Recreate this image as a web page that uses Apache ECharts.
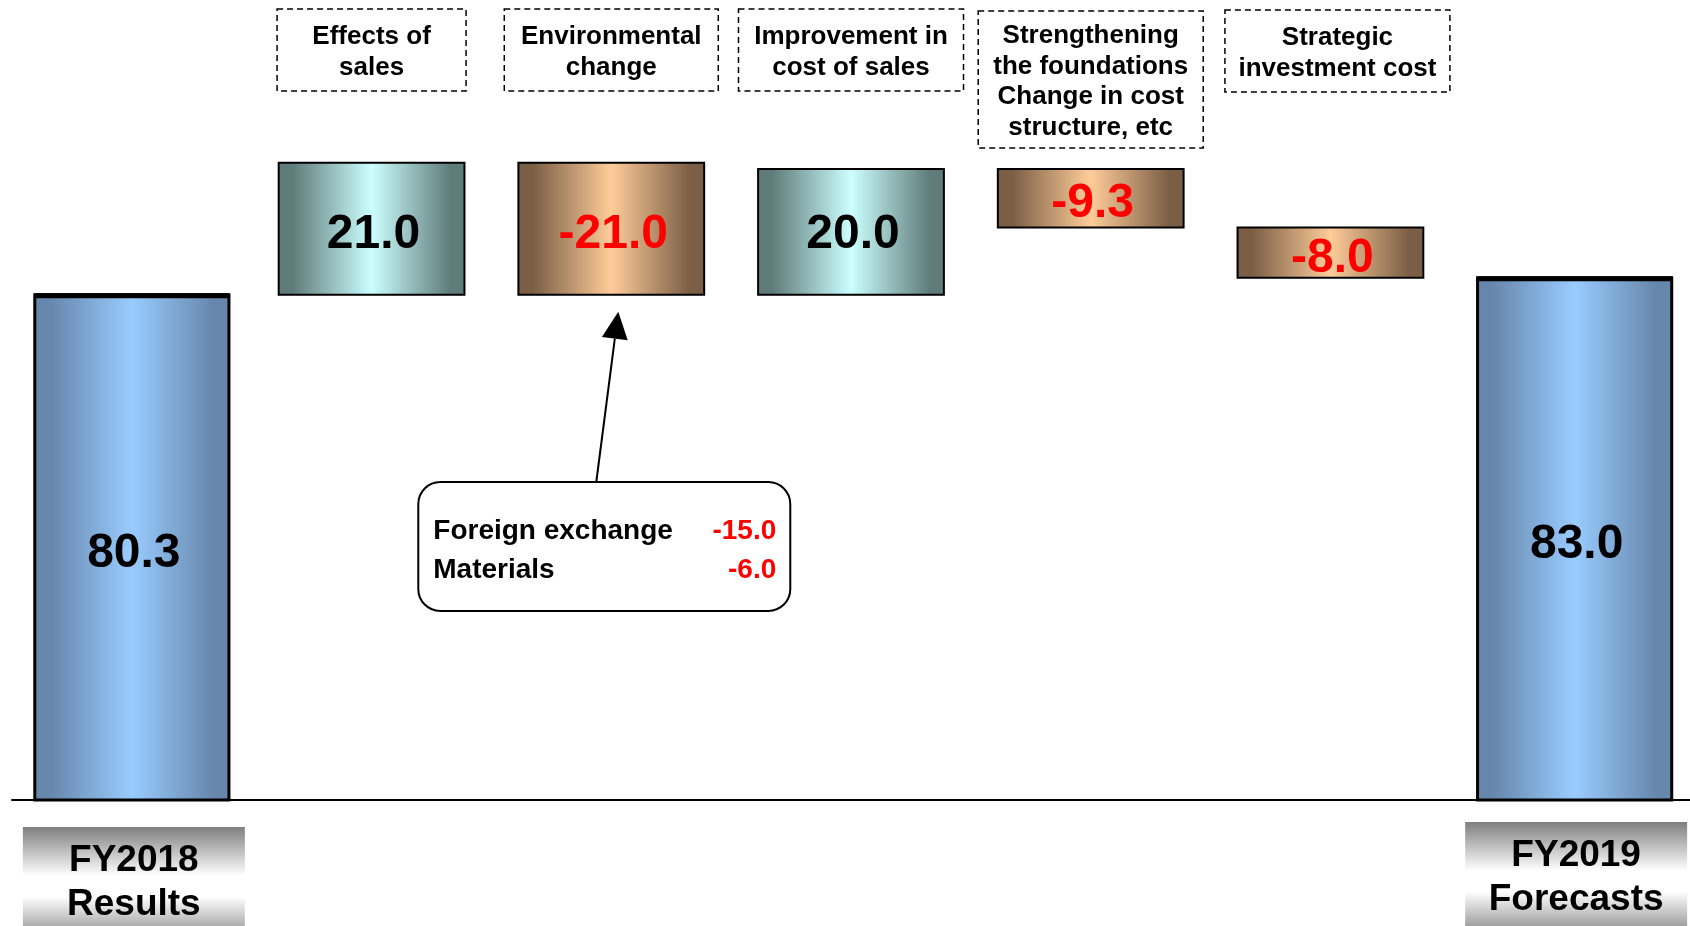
<!DOCTYPE html>
<html>
<head>
<meta charset="utf-8">
<title>Operating income bridge FY2018 to FY2019</title>
<script src="https://cdn.jsdelivr.net/npm/echarts/dist/echarts.min.js"></script>
<style>
  html, body { margin: 0; padding: 0; background: #ffffff; }
  #chart { width: 1690px; height: 926px; }
</style>
</head>
<body>
<div id="chart"></div>
<script>
// ---- data ----
const categories = [
  'FY2018\nResults',
  'Effects of\nsales',
  'Environmental\nchange',
  'Improvement in\ncost of sales',
  'Strengthening\nthe foundations\nChange in cost\nstructure, etc',
  'Strategic\ninvestment cost',
  'FY2019\nForecasts'
];
const startValue = 80.3;
const changes = [21.0, -21.0, 20.0, -9.3, -8.0];
const endValue = 83.0;
const breakdownNames = ['Foreign exchange', 'Materials'];
const breakdownValues = [-15.0, -6.0];
const breakdownTarget = 2; // Environmental change

// ---- styling ----
const FONT = '"Liberation Sans", Arial, sans-serif';
const barShift = [0, 0, 0, 0, 0, 0, 4.5];
const labelShift = [0, 0, 0, -3, 0, 0, 0];
const headerWidths = [189, 214, 225, 225, 225];
const headerTops = [9, 9, 9, 11, 10];
const headerShift = [0, 0, 0, 0, 7];
const grad = (edge, mid) => ({
  type: 'linear', x: 0, y: 0, x2: 1, y2: 0,
  colorStops: [
    { offset: 0, color: edge },
    { offset: 0.08, color: edge },
    { offset: 0.5, color: mid },
    { offset: 0.92, color: edge },
    { offset: 1, color: edge }
  ]
});
const fills = {
  total: grad('#6686ab', '#99ccff'),
  up: grad('#5f7c7a', '#ccffff'),
  down: grad('#7a5e45', '#ffcc99')
};

// waterfall segments: [categoryIndex, low, high, labelValue]
const bars = [];
const kinds = [];
bars.push([0, 0, startValue, startValue]); kinds.push('total');
let running = startValue;
changes.forEach((d, k) => {
  const next = running + d;
  bars.push([k + 1, Math.min(running, next), Math.max(running, next), d]);
  kinds.push(d >= 0 ? 'up' : 'down');
  running = next;
});
bars.push([categories.length - 1, 0, endValue, endValue]); kinds.push('total');

function renderBar(params, api) {
  const i = api.value(0), lo = api.value(1), hi = api.value(2), v = api.value(3);
  const kind = kinds[params.dataIndex];
  const band = api.size([1, 0])[0];
  const w = band * (kind === 'total' ? 0.81 : 0.775);
  const pLo = api.coord([i, lo]);
  const pHi = api.coord([i, hi]);
  const cx = pLo[0] + barShift[i];
  const x = cx - w / 2;
  const children = [{
    type: 'rect',
    shape: { x: x, y: pHi[1], width: w, height: pLo[1] - pHi[1] },
    style: { fill: fills[kind], stroke: '#000', lineWidth: kind === 'total' ? 3 : 2 }
  }];
  if (kind === 'total') {
    children.push({
      type: 'line',
      shape: { x1: x, y1: pHi[1] + 1, x2: x + w, y2: pHi[1] + 1 },
      style: { stroke: '#000', lineWidth: 5 }
    });
  }
  children.push({
    type: 'text',
    style: {
      text: v.toFixed(1),
      x: cx + 2, y: (pLo[1] + pHi[1]) / 2 + 6 + labelShift[i],
      align: 'center', verticalAlign: 'middle',
      font: 'bold 48px ' + FONT,
      fill: v < 0 ? '#ff0000' : '#000000'
    }
  });
  return { type: 'group', children: children };
}

// dashed caption boxes above each change step
const headerData = changes.map((d, k) => [k + 1, 0]);
function renderHeader(params, api) {
  const i = api.value(0);
  const k = params.dataIndex;
  const cx = api.coord([i, 0])[0] + headerShift[k];
  const text = categories[i];
  const n = text.split('\n').length;
  const w = headerWidths[k];
  const h = 27.5 * n + 27;
  const top = headerTops[k];
  return {
    type: 'group',
    children: [{
      type: 'rect',
      shape: { x: cx - w / 2, y: top, width: w, height: h },
      style: { fill: '#fff', stroke: '#000', lineWidth: 1.5, lineDash: [6, 4] }
    }, {
      type: 'text',
      style: {
        text: text, x: cx, y: top + h / 2 + 2.5,
        align: 'center', verticalAlign: 'middle',
        lineHeight: 30.5, font: 'bold 26px ' + FONT, fill: '#000'
      }
    }]
  };
}

// shaded captions under the two totals
const footerData = [[0, 0], [categories.length - 1, 0]];
const footerFill = {
  type: 'linear', x: 0, y: 0, x2: 0, y2: 1,
  colorStops: [
    { offset: 0, color: '#7f7f7f' },
    { offset: 0.42, color: '#ffffff' },
    { offset: 0.6, color: '#ffffff' },
    { offset: 1, color: '#7f7f7f' }
  ]
};
function renderFooter(params, api) {
  const i = api.value(0);
  const first = params.dataIndex === 0;
  const p = api.coord([i, 0]);
  const cx = p[0] + (first ? 2 : 6);
  const w = 222;
  const top = p[1] + (first ? 27 : 22);
  return {
    type: 'group',
    children: [{
      type: 'rect',
      shape: { x: cx - w / 2, y: top, width: w, height: 116 },
      style: { fill: footerFill }
    }, {
      type: 'text',
      style: {
        text: categories[i], x: cx, y: top + 56,
        align: 'center', verticalAlign: 'middle',
        lineHeight: 44, font: 'bold 37px ' + FONT, fill: '#000'
      }
    }]
  };
}

// breakdown callout pointing at the environmental change step
const calloutData = [[breakdownTarget, bars[breakdownTarget][1]]];
function renderCallout(params, api) {
  const p = api.coord([api.value(0), api.value(1)]);
  const bx = p[0] - 193, by = 482, bw = 372, bh = 129;
  const tip = [p[0] + 7, p[1] + 17];
  const tail = [p[0] - 15, by];
  const dx = tip[0] - tail[0], dy = tip[1] - tail[1];
  const len = Math.sqrt(dx * dx + dy * dy);
  const ux = dx / len, uy = dy / len;
  const hl = 27, hw = 13;
  const base = [tip[0] - ux * hl, tip[1] - uy * hl];
  const children = [{
    type: 'rect',
    shape: { x: bx, y: by, width: bw, height: bh, r: 22 },
    style: { fill: '#fff', stroke: '#000', lineWidth: 2 }
  }, {
    type: 'line',
    shape: { x1: tail[0], y1: tail[1], x2: base[0], y2: base[1] },
    style: { stroke: '#000', lineWidth: 2 }
  }, {
    type: 'polygon',
    shape: { points: [tip, [base[0] - uy * hw, base[1] + ux * hw], [base[0] + uy * hw, base[1] - ux * hw]] },
    style: { fill: '#000' }
  }];
  breakdownNames.forEach((name, k) => {
    const y = by + 49 + k * 39;
    children.push({
      type: 'text',
      style: { text: name, x: bx + 15, y: y, align: 'left', verticalAlign: 'middle',
               font: 'bold 28px ' + FONT, fill: '#000' }
    });
    children.push({
      type: 'text',
      style: { text: breakdownValues[k].toFixed(1), x: bx + bw - 14, y: y,
               align: 'right', verticalAlign: 'middle',
               font: 'bold 28px ' + FONT, fill: '#ff0000' }
    });
  });
  return { type: 'group', children: children };
}

const chart = echarts.init(document.getElementById('chart'), null, { renderer: 'canvas' });
chart.setOption({
  backgroundColor: '#ffffff',
  animation: false,
  grid: { left: 12, width: 1680, top: 45, bottom: 126 },
  xAxis: {
    type: 'category',
    data: categories,
    axisLine: { lineStyle: { color: '#000', width: 2 } },
    axisTick: { show: false },
    axisLabel: { show: false },
    splitLine: { show: false }
  },
  yAxis: { type: 'value', min: 0, max: 120, show: false },
  series: [
    { type: 'custom', name: 'bars', data: bars, renderItem: renderBar, z: 3 },
    { type: 'custom', name: 'headers', data: headerData, renderItem: renderHeader, z: 2 },
    { type: 'custom', name: 'footers', data: footerData, renderItem: renderFooter, z: 2 },
    { type: 'custom', name: 'callout', data: calloutData, renderItem: renderCallout, z: 4 }
  ]
});
</script>
</body>
</html>
